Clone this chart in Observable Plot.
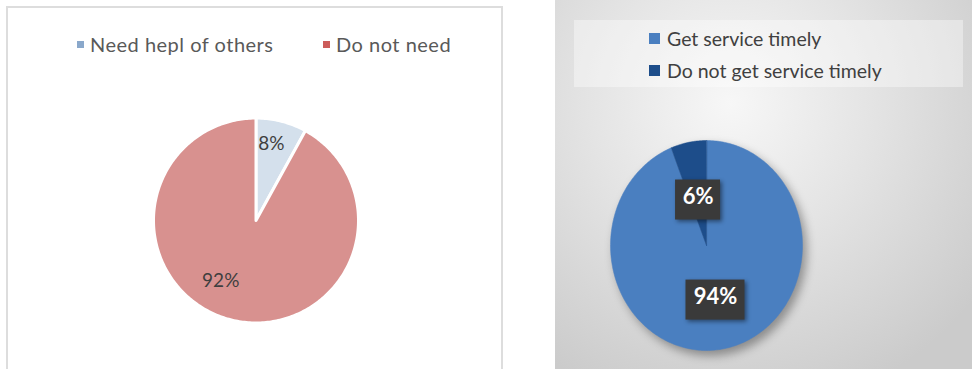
<!DOCTYPE html>
<html><head><meta charset="utf-8">
<script src="https://cdn.jsdelivr.net/npm/d3@7"></script>
<script src="https://cdn.jsdelivr.net/npm/@observablehq/plot@0.6"></script>
<style>
body{margin:0;background:#fff;font-family:Lato,"Open Sans",sans-serif;}
#wrap{position:relative;width:972px;height:369px;overflow:hidden;background:#fff;}
#leftPanel{position:absolute;left:6px;top:6px;width:497px;height:380px;border:2px solid #dddddd;box-sizing:border-box;}
#rightPanel{position:absolute;left:555px;top:0;width:417px;height:369px;
  background:radial-gradient(ellipse 75% 85% at 42% 28%, #f7f7f7 0%, #e4e4e4 45%, #cbcbcb 100%);}
#rightLegendBox{position:absolute;left:574px;top:20px;width:389px;height:67px;background:rgba(255,255,255,0.38);}
.plotL,.plotR{position:absolute;top:0;}
.plotL{left:0;} .plotR{left:555px;}
.plotR g[aria-label="line"]{filter:drop-shadow(4px 5px 5px rgba(0,0,0,0.35));}
.plotR g[aria-label="rect"]{filter:drop-shadow(2px 2px 2px rgba(0,0,0,0.45));}
.leg{position:absolute;display:flex;align-items:center;white-space:nowrap;}
.sw{display:inline-block;}
</style>
</head><body>
<div id="wrap">
  <div id="leftPanel"></div>
  <div id="rightPanel"></div>
  <div id="rightLegendBox"></div>
</div>
<script>
// ---- data ----
const helpCategories = ["Need hepl of others", "Do not need"];
const helpValues = [8, 92];
const helpColors = ["#d4e0ec", "#d8918f"];
const helpLegendColors = ["#8aa8cb", "#cc5c5a"];

const serviceCategories = ["Get service timely", "Do not get service timely"];
const serviceValues = [94, 6];
const serviceColors = ["#4a7fc0", "#1d4d8a"];

// ---- helpers ----
function sliceOutlines(cats, vals) {
  const arcs = d3.pie().sort(null).value(d => d.v)(cats.map((c, i) => ({c, v: vals[i]})));
  const pts = [];
  arcs.forEach(a => {
    pts.push({cat: a.data.c, x: 0, y: 0});
    const n = Math.max(2, Math.ceil((a.endAngle - a.startAngle) / (Math.PI / 180)));
    for (let k = 0; k <= n; k++) {
      const t = a.startAngle + (a.endAngle - a.startAngle) * k / n;
      pts.push({cat: a.data.c, x: Math.sin(t), y: Math.cos(t)});
    }
  });
  return {arcs, pts};
}
function labelPoints(arcs, adjust) {
  return arcs.map((a, i) => {
    const t = (a.startAngle + a.endAngle) / 2 + adjust[i].dAngle * Math.PI / 180;
    return {cat: a.data.c, text: a.data.v + "%", x: adjust[i].r * Math.sin(t), y: adjust[i].r * Math.cos(t)};
  });
}

const wrap = document.getElementById("wrap");

// ---- left chart ----
{
  const cx = 255.5, cy = 220, r = 102.5;
  const {arcs, pts} = sliceOutlines(helpCategories, helpValues);
  const labels = labelPoints(arcs, [{dAngle: -3, r: 0.76}, {dAngle: 16, r: 0.68}]);
  const chart = Plot.plot({
    width: 540, height: 369, margin: 0,
    x: {domain: [-1, 1], range: [cx - r, cx + r], axis: null},
    y: {domain: [-1, 1], range: [cy + r, cy - r], axis: null},
    color: {domain: helpCategories, range: helpColors},
    style: {background: "transparent", overflow: "visible"},
    marks: [
      Plot.line(pts, {x: "x", y: "y", z: "cat", fill: "#c98583", stroke: "#c98583", strokeWidth: 1, curve: "linear-closed"}),
      Plot.line(pts, {x: "x", y: "y", z: "cat", fill: "cat", stroke: "white", strokeWidth: 3, curve: "linear-closed"}),
      Plot.text(labels, {x: "x", y: "y", text: "text", fill: "#3f3f3f", fontSize: 19, fontFamily: "Lato, sans-serif"})
    ]
  });
  chart.classList.add("plotL");
  wrap.appendChild(chart);

  const legLeft = [77, 323];
  helpCategories.forEach((c, i) => {
    const leg = document.createElement("div");
    leg.className = "leg";
    leg.style.cssText = `left:${legLeft[i]}px;top:32px;height:24px;font-size:20px;letter-spacing:0.5px;color:#595959;`;
    leg.innerHTML = `<span class="sw" style="width:7px;height:7px;background:${helpLegendColors[i]};margin-right:6px"></span><span>${c}</span>`;
    wrap.appendChild(leg);
  });
}

// ---- right chart ----
{
  const cx = 151, cy = 245, rx = 96, ry = 105;
  const {arcs, pts} = sliceOutlines(serviceCategories, serviceValues);
  const labels = labelPoints(arcs, [{dAngle: 0, r: 0.5}, {dAngle: 0, r: 0.47}]);
  const boxH = 40;
  const boxW = d => 17 + 14 * d.text.length;
  const chart = Plot.plot({
    width: 417, height: 369, margin: 0,
    x: {domain: [-1, 1], range: [cx - rx, cx + rx], axis: null},
    y: {domain: [-1, 1], range: [cy + ry, cy - ry], axis: null},
    color: {domain: serviceCategories, range: serviceColors},
    style: {background: "transparent", overflow: "visible"},
    marks: [
      Plot.line(pts, {x: "x", y: "y", z: "cat", fill: "cat", stroke: "cat", strokeWidth: 0.5, curve: "linear-closed"}),
      Plot.rect(labels, {
        x1: d => d.x - boxW(d) / 2 / rx, x2: d => d.x + boxW(d) / 2 / rx,
        y1: d => d.y - boxH / 2 / ry - 3 / ry, y2: d => d.y + boxH / 2 / ry - 3 / ry,
        fill: "#3a3a3a"
      }),
      Plot.text(labels, {x: "x", y: "y", text: "text", fill: "white", fontSize: 22, fontWeight: "bold", fontFamily: "Lato, sans-serif"})
    ]
  });
  chart.classList.add("plotR");
  wrap.appendChild(chart);

  serviceCategories.forEach((c, i) => {
    const leg = document.createElement("div");
    leg.className = "leg";
    leg.style.cssText = `left:649px;top:${26 + i * 32.5}px;height:24px;font-size:19.5px;color:#404040;`;
    leg.innerHTML = `<span class="sw" style="width:11px;height:11px;background:${serviceColors[i]};margin-right:7px"></span><span>${c}</span>`;
    wrap.appendChild(leg);
  });
}
</script>
</body></html>
